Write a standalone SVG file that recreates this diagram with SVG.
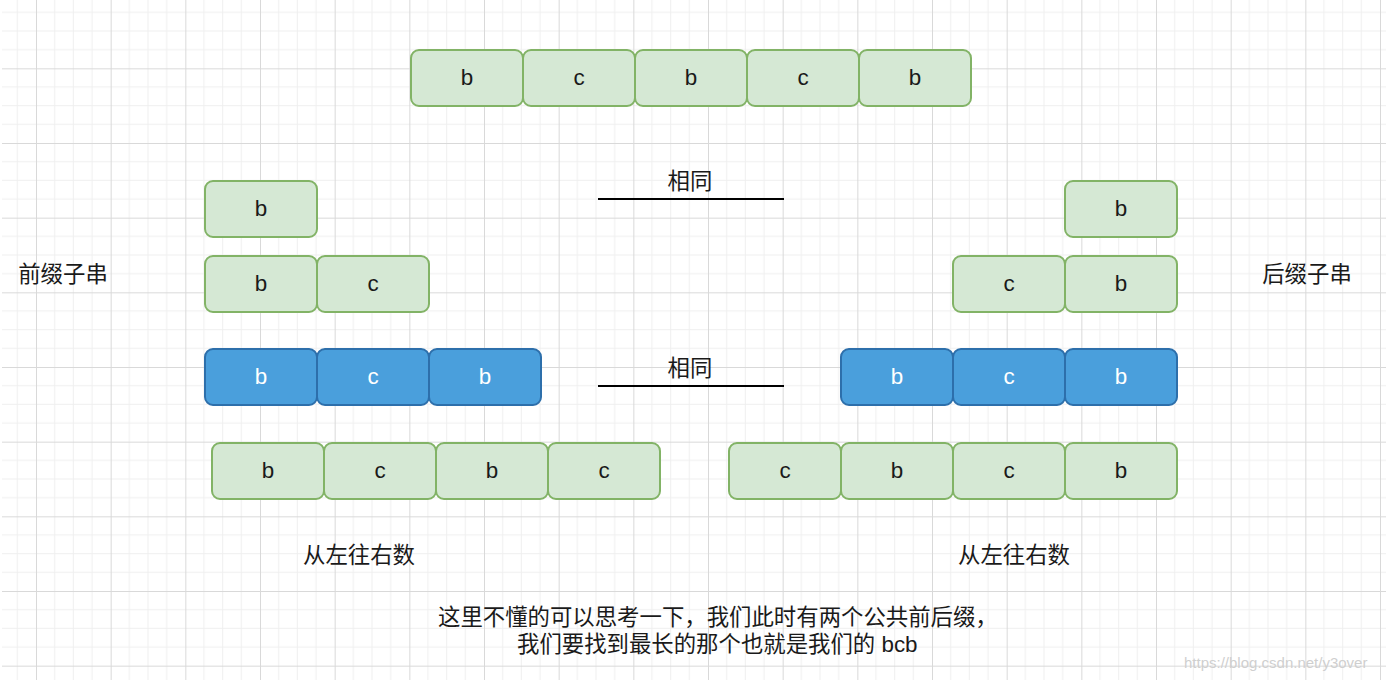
<svg xmlns="http://www.w3.org/2000/svg" width="1388" height="680" viewBox="0 0 1388 680">
<defs>
<pattern id="grid" patternUnits="userSpaceOnUse" x="36" y="68.33" width="74.667" height="74.667">
<path d="M18.667 0V74.667M37.333 0V74.667M56 0V74.667M0 18.667H74.667M0 37.333H74.667M0 56H74.667" stroke="#efefef" stroke-width="1" fill="none"/>
<path d="M0.5 0V74.667M0 0.5H74.667" stroke="#d9d9d9" stroke-width="1" fill="none"/>
</pattern>
<style>
.g rect{fill:#d5e8d4;stroke:#82b366;stroke-width:2}
.bl rect{fill:#4a9fdc;stroke:#2d6fab;stroke-width:2}
text{font-family:"Liberation Sans","Noto Sans CJK SC",sans-serif;font-size:22.4px;fill:#1a1a1a}
.g text,.bl text{text-anchor:middle}
.bl text{fill:#ffffff}
.lbl{text-anchor:middle}
.sep{stroke:#000;stroke-width:2}
</style>
</defs>
<rect width="1388" height="680" fill="#ffffff"/>
<rect x="2" y="0" width="1384" height="680" fill="url(#grid)"/>

<g id="top-string">
<g class="g" id="t1"><rect x="411" y="50" width="112" height="56" rx="8"/><text x="467" y="85">b</text></g>
<g class="g" id="t2"><rect x="523" y="50" width="112" height="56" rx="8"/><text x="579" y="85">c</text></g>
<g class="g" id="t3"><rect x="635" y="50" width="112" height="56" rx="8"/><text x="691" y="85">b</text></g>
<g class="g" id="t4"><rect x="747" y="50" width="112" height="56" rx="8"/><text x="803" y="85">c</text></g>
<g class="g" id="t5"><rect x="859" y="50" width="112" height="56" rx="8"/><text x="915" y="85">b</text></g>
</g>

<g id="prefix1"><g class="g"><rect x="205" y="181" width="112" height="56" rx="8"/><text x="261" y="216">b</text></g></g>
<g id="suffix1"><g class="g"><rect x="1065" y="181" width="112" height="56" rx="8"/><text x="1121" y="216">b</text></g></g>

<g id="prefix2">
<g class="g"><rect x="205" y="256" width="112" height="56" rx="8"/><text x="261" y="291">b</text></g>
<g class="g"><rect x="317" y="256" width="112" height="56" rx="8"/><text x="373" y="291">c</text></g>
</g>
<g id="suffix2">
<g class="g"><rect x="953" y="256" width="112" height="56" rx="8"/><text x="1009" y="291">c</text></g>
<g class="g"><rect x="1065" y="256" width="112" height="56" rx="8"/><text x="1121" y="291">b</text></g>
</g>

<g id="prefix3">
<g class="bl"><rect x="205" y="349" width="112" height="56" rx="8"/><text x="261" y="384">b</text></g>
<g class="bl"><rect x="317" y="349" width="112" height="56" rx="8"/><text x="373" y="384">c</text></g>
<g class="bl"><rect x="429" y="349" width="112" height="56" rx="8"/><text x="485" y="384">b</text></g>
</g>
<g id="suffix3">
<g class="bl"><rect x="841" y="349" width="112" height="56" rx="8"/><text x="897" y="384">b</text></g>
<g class="bl"><rect x="953" y="349" width="112" height="56" rx="8"/><text x="1009" y="384">c</text></g>
<g class="bl"><rect x="1065" y="349" width="112" height="56" rx="8"/><text x="1121" y="384">b</text></g>
</g>

<g id="prefix4">
<g class="g"><rect x="212" y="443" width="112" height="56" rx="8"/><text x="268" y="478">b</text></g>
<g class="g"><rect x="324" y="443" width="112" height="56" rx="8"/><text x="380" y="478">c</text></g>
<g class="g"><rect x="436" y="443" width="112" height="56" rx="8"/><text x="492" y="478">b</text></g>
<g class="g"><rect x="548" y="443" width="112" height="56" rx="8"/><text x="604" y="478">c</text></g>
</g>
<g id="suffix4">
<g class="g"><rect x="729" y="443" width="112" height="56" rx="8"/><text x="785" y="478">c</text></g>
<g class="g"><rect x="841" y="443" width="112" height="56" rx="8"/><text x="897" y="478">b</text></g>
<g class="g"><rect x="953" y="443" width="112" height="56" rx="8"/><text x="1009" y="478">c</text></g>
<g class="g"><rect x="1065" y="443" width="112" height="56" rx="8"/><text x="1121" y="478">b</text></g>
</g>

<g id="connectors">
<line class="sep" x1="598" y1="199" x2="784" y2="199"/>
<line class="sep" x1="598" y1="386" x2="784" y2="386"/>
</g>

<g id="labels">
<text class="lbl" x="690" y="189">相同</text>
<text class="lbl" x="690" y="376">相同</text>
<text class="lbl" x="63" y="282">前缀子串</text>
<text class="lbl" x="1307" y="282">后缀子串</text>
<text class="lbl" x="359" y="563">从左往右数</text>
<text class="lbl" x="1014" y="563">从左往右数</text>
<text x="438" y="625">这里不懂的可以思考一下，我们此时有两个公共前后缀，</text>
<text x="517" y="652">我们要找到最长的那个也就是我们的 bcb</text>
</g>
<text x="1184" y="668" style="font-size:15px;fill:#cfcfcf">https://blog.csdn.net/y3over</text>
</svg>
